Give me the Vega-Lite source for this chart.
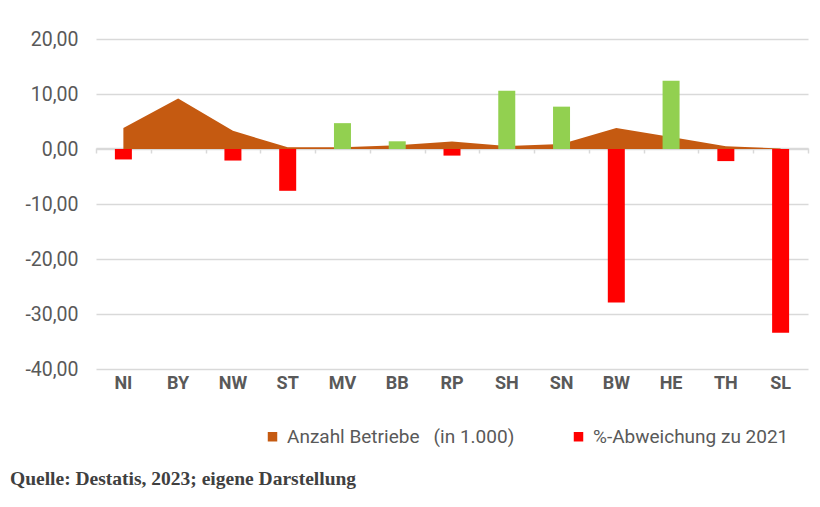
{
  "$schema": "https://vega.github.io/schema/vega-lite/v6.json",
  "autosize": "none",
  "width": 712,
  "height": 330,
  "padding": {"left": 96, "top": 39, "right": 12, "bottom": 138},
  "background": "white",
  "config": {
    "locale": {"number": {"decimal": ",", "thousands": ".", "grouping": [3], "currency": ["", " €"], "minus": "-"}},
    "view": {"stroke": null},
    "font": "Roboto"
  },
  "data": {"values": [
    {"land": "NI", "betriebe": 3.8, "pct": -1.9},
    {"land": "BY", "betriebe": 9.2, "pct": 0},
    {"land": "NW", "betriebe": 3.3, "pct": -2.1},
    {"land": "ST", "betriebe": 0.3, "pct": -7.6},
    {"land": "MV", "betriebe": 0.3, "pct": 4.7},
    {"land": "BB", "betriebe": 0.7, "pct": 1.4},
    {"land": "RP", "betriebe": 1.35, "pct": -1.2},
    {"land": "SH", "betriebe": 0.55, "pct": 10.6},
    {"land": "SN", "betriebe": 0.9, "pct": 7.7},
    {"land": "BW", "betriebe": 3.8, "pct": -27.9},
    {"land": "HE", "betriebe": 2.2, "pct": 12.4},
    {"land": "TH", "betriebe": 0.5, "pct": -2.2},
    {"land": "SL", "betriebe": 0.1, "pct": -33.4}
  ]},
  "title": {
    "text": "Quelle: Destatis, 2023; eigene Darstellung",
    "orient": "bottom",
    "anchor": "start",
    "frame": "group",
    "font": "Liberation Serif",
    "fontWeight": "bold",
    "fontSize": 19.5,
    "color": "#404040",
    "dx": -86,
    "offset": 23
  },
  "encoding": {
    "x": {
      "field": "land",
      "type": "nominal",
      "sort": null,
      "scale": {"paddingInner": 0, "paddingOuter": 0},
      "title": null
    }
  },
  "layer": [
    {
      "mark": {"type": "area", "color": "#C55A11"},
      "encoding": {
        "x": {
          "field": "land", "type": "nominal", "sort": null,
          "axis": {
            "orient": "bottom", "domain": false, "ticks": false, "grid": false,
            "labelAngle": 0, "labelFont": "Roboto", "labelFontWeight": "bold",
            "labelFontSize": 18, "labelColor": "#595959", "labelPadding": 5
          }
        },
        "y": {
          "field": "betriebe", "type": "quantitative",
          "scale": {"domain": [-40, 20]},
          "axis": {
            "values": [-40, -30, -20, -10, 0, 10, 20], "format": ".2f",
            "domain": false, "ticks": false, "grid": true, "gridColor": "#d9d9d9",
            "gridWidth": 1.5, "labelFont": "Roboto", "labelFontSize": 19.5,
            "labelColor": "#595959", "labelPadding": 18, "title": null
          }
        },
        "color": {
          "datum": "Anzahl Betriebe \u00a0 (in 1.000)",
          "type": "nominal",
          "scale": {"domain": ["Anzahl Betriebe \u00a0 (in 1.000)", "%-Abweichung zu 2021"], "range": ["#C55A11", "#FF0000"]},
          "legend": {
            "orient": "none", "legendX": 167, "legendY": 388, "direction": "horizontal",
            "title": null, "symbolType": "square", "symbolSize": 90, "symbolStrokeWidth": 0,
            "labelFont": "Roboto", "labelFontSize": 19, "labelColor": "#595959",
            "labelLimit": 0, "columnPadding": 54, "labelOffset": 5
          }
        }
      }
    },
    {
      "mark": {"type": "bar", "size": 17},
      "encoding": {
        "x": {
          "field": "land", "type": "nominal", "sort": null,
          "axis": {
            "orient": "bottom", "offset": -221, "labels": false, "grid": false,
            "domain": true, "domainColor": "#d9d9d9", "domainWidth": 1.5,
            "ticks": true, "tickColor": "#d9d9d9", "tickWidth": 1.5, "tickSize": 5,
            "tickBand": "extent", "title": null
          }
        },
        "y": {"field": "pct", "type": "quantitative"},
        "color": {"datum": "%-Abweichung zu 2021", "type": "nominal"},
        "fill": {
          "condition": {"test": "datum.pct > 0", "value": "#92D050"},
          "value": "#FF0000"
        }
      }
    }
  ],
  "resolve": {"axis": {"x": "independent"}}
}
